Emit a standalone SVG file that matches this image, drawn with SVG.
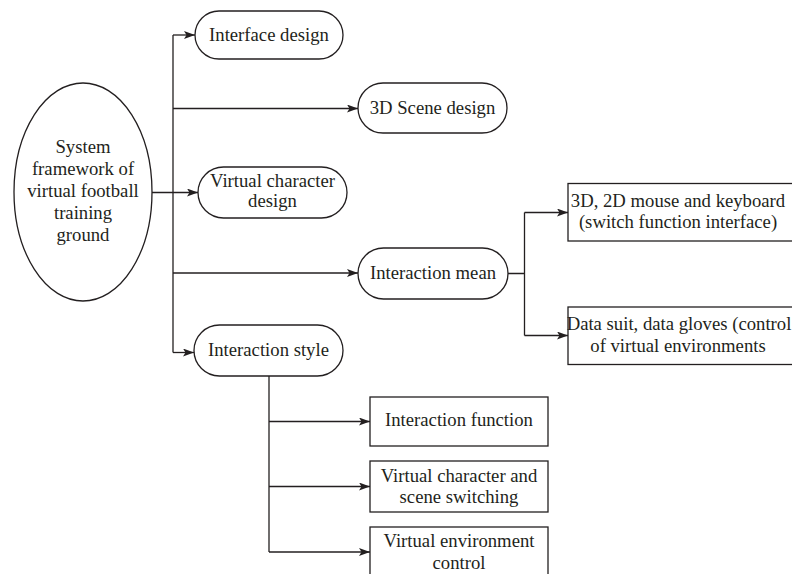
<svg xmlns="http://www.w3.org/2000/svg" width="792" height="574" viewBox="0 0 792 574">
<defs>
<style>
.n{fill:#fff;stroke:#231f20;stroke-width:1.3}
.t{font-family:"Liberation Serif","Times New Roman",serif;font-size:18.7px;fill:#231f20;text-anchor:middle}
.c{fill:none;stroke:#231f20;stroke-width:1.3}
</style>
<marker id="ah" markerWidth="12" markerHeight="8" refX="11" refY="4" orient="auto" markerUnits="userSpaceOnUse">
<path d="M0,0 L11,4 L0,8 L2.5,4 Z" fill="#231f20"/>
</marker>
</defs>
<rect width="792" height="574" fill="#fff"/>
<g id="connectors">
<path class="c" d="M173,35 V352.5"/>
<path class="c" d="M173,35 H195" marker-end="url(#ah)"/>
<path class="c" d="M173,108.5 H358" marker-end="url(#ah)"/>
<path class="c" d="M152,192.5 H198" marker-end="url(#ah)"/>
<path class="c" d="M173,273 H358" marker-end="url(#ah)"/>
<path class="c" d="M173,352.5 H194" marker-end="url(#ah)"/>
<path class="c" d="M508,273.5 H524.5 M524.5,212.5 V335.5"/>
<path class="c" d="M524.5,212.5 H568" marker-end="url(#ah)"/>
<path class="c" d="M524.5,335.5 H568" marker-end="url(#ah)"/>
<path class="c" d="M269,376 V552"/>
<path class="c" d="M269,421.5 H370" marker-end="url(#ah)"/>
<path class="c" d="M269,486.5 H370" marker-end="url(#ah)"/>
<path class="c" d="M269,552 H370" marker-end="url(#ah)"/>
</g>
<g id="root">
<ellipse class="n" cx="83" cy="192" rx="69" ry="109"/>
<text class="t" x="83" y="153">System</text>
<text class="t" x="83" y="175">framework of</text>
<text class="t" x="83" y="197">virtual football</text>
<text class="t" x="83" y="219">training</text>
<text class="t" x="83" y="241">ground</text>
</g>
<g id="interface-design">
<rect class="n" x="195" y="11" width="148" height="48" rx="24"/>
<text class="t" x="269" y="40.5">Interface design</text>
</g>
<g id="scene-design">
<rect class="n" x="358" y="83" width="149" height="50" rx="25"/>
<text class="t" x="432.5" y="113.5">3D Scene design</text>
</g>
<g id="character-design">
<rect class="n" x="198" y="167" width="149" height="51" rx="25.5"/>
<text class="t" x="272.5" y="186.5">Virtual character</text>
<text class="t" x="272.5" y="207">design</text>
</g>
<g id="interaction-mean">
<rect class="n" x="358" y="248" width="150" height="51" rx="25.5"/>
<text class="t" x="433" y="279">Interaction mean</text>
</g>
<g id="interaction-style">
<rect class="n" x="194" y="325" width="149" height="51" rx="25.5"/>
<text class="t" x="268.5" y="356">Interaction style</text>
</g>
<g id="mouse-keyboard">
<rect class="n" x="568" y="183.5" width="228" height="57.5"/>
<text class="t" x="678" y="206.5">3D, 2D mouse and keyboard</text>
<text class="t" x="678" y="228">(switch function interface)</text>
</g>
<g id="data-suit">
<rect class="n" x="568" y="307" width="228" height="57.5"/>
<text class="t" x="679" y="330">Data suit, data gloves (control</text>
<text class="t" x="678" y="351.5">of virtual environments</text>
</g>
<g id="interaction-function">
<rect class="n" x="370" y="397" width="178" height="49"/>
<text class="t" x="459" y="426">Interaction function</text>
</g>
<g id="scene-switching">
<rect class="n" x="370" y="461" width="178" height="51"/>
<text class="t" x="459" y="481.5">Virtual character and</text>
<text class="t" x="459" y="503">scene switching</text>
</g>
<g id="environment-control">
<rect class="n" x="370" y="527" width="178" height="60"/>
<text class="t" x="459" y="547">Virtual environment</text>
<text class="t" x="459" y="568.5">control</text>
</g>
</svg>
